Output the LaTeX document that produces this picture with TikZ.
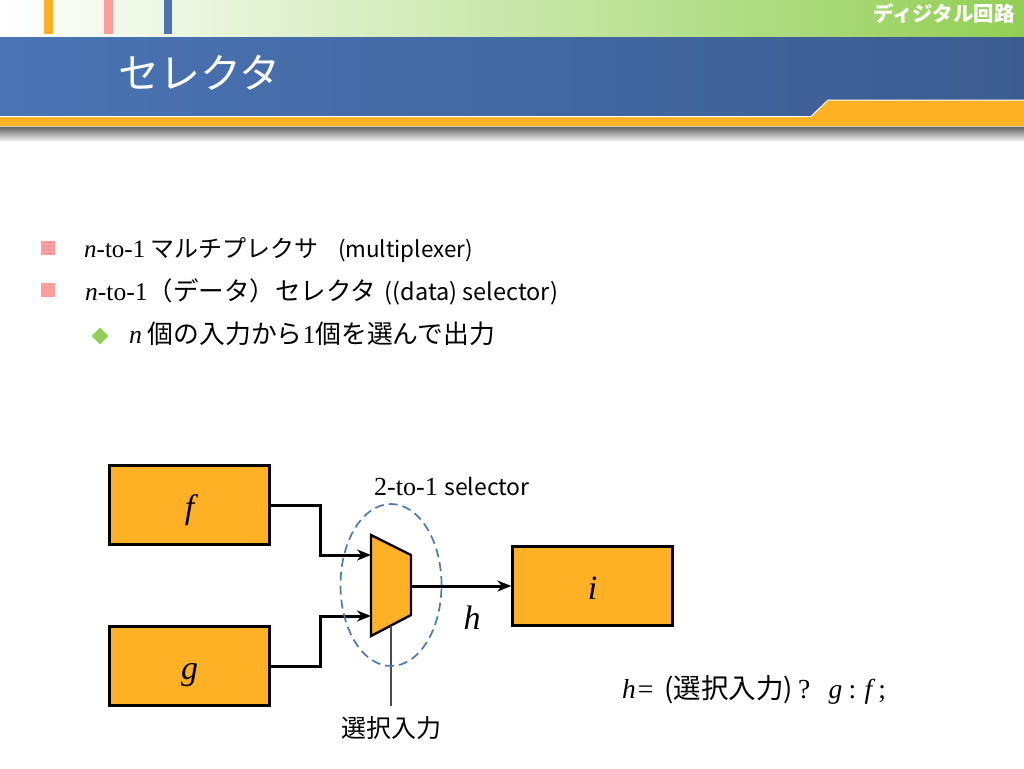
\documentclass[tikz,border=0pt]{standalone}
\usepackage{fontspec}
\setmainfont{Noto Sans CJK JP}
\newfontfamily\srf{Liberation Serif}
\usetikzlibrary{arrows.meta,shapes.geometric}
\definecolor{bandorange}{HTML}{FFB126}
\definecolor{bandpink}{HTML}{FF9C9C}
\definecolor{bandblue}{HTML}{4A74B4}
\definecolor{banddark}{HTML}{3C5C91}
\definecolor{bandgreen}{HTML}{92CF55}
\definecolor{ringblue}{HTML}{4F79B0}
\newcommand{\itl}[1]{{\srf\itshape #1}}
\newcommand{\txt}[2]{\fontsize{#1}{#1}\selectfont #2}

\begin{document}
\begin{tikzpicture}[x=1pt,y=-1pt,
		block node/.style={draw=black,line width=2.4pt,fill=bandorange,minimum width=160pt,minimum height=79pt,inner sep=0pt,text height=26pt,text depth=0pt,font=\fontsize{34}{34}\selectfont\srf\itshape},
		signal line/.style={line width=3pt,-{Stealth[length=14pt,width=11pt]}},
		line node/.style={anchor=base west,inner sep=0pt,text=black},
		bullet node/.style={fill=bandpink,minimum size=14pt,inner sep=0pt}]
		\useasboundingbox (0,0) rectangle (1024,768);
		
		% header
		\fill[left color=white,right color=bandgreen] (0,0) rectangle (1024,38);
		\fill[bandorange] (44,0) rectangle (53,34);
		\fill[bandpink] (104,0) rectangle (113,34);
		\fill[bandblue] (164,0) rectangle (172,34);
		\fill[left color=bandblue,right color=banddark] (0,38) rectangle (1024,118);
		\fill[top color=black!65,bottom color=white] (0,126) rectangle (1024,142);
		\draw[white,line width=1pt,fill=bandorange] (-2,116.5) -- (811,116.5) -- (828,100) -- (1026,100) -- (1026,126) -- (-2,126) -- cycle;
		\fill[bandorange] (0,119) rectangle (1024,126);
		\node[anchor=west,inner sep=0pt,text=white] (title) at (118,73) {\txt{41}{セレクタ}};
		\node[anchor=east,inner sep=0pt,text=white] (tag) at (1015,13) {\txt{20.5}{\bfseries ディジタル回路}};
		
		% text lines
		\node[bullet node] (b1) at (48,248) {};
		\node[bullet node] (b2) at (48,290) {};
		\node[diamond,fill=bandgreen,minimum size=17pt,inner sep=0pt] (b3) at (100,336) {};
		\node[line node] (l1) at (84,257) {\txt{24}{{\fontsize{25}{25}\selectfont\itl{n}{\srf -to-1}} マルチプレクサ\hspace{14pt} {\fontsize{22.4}{22.4}\selectfont (multiplexer)}}};
		\node[line node] (l2) at (85,300) {\txt{25.5}{\itl{n}{\srf -to-1}（データ）セレクタ\hspace{3pt} {\fontsize{23.5}{23.5}\selectfont ((data) selector)}}};
		\node[line node] (l3) at (129,343) {\txt{25.8}{\itl{n} 個の入力から{\srf 1}個を選んで出力}};
		
		% circuit
		\node[block node] (f) at (189.5,505) {f};
		\node[block node] (g) at (189.5,666) {g};
		\node[block node] (i) at (592.5,586) {i};
		\coordinate (mux1) at (371,535);
		\coordinate (mux2) at (411,555);
		\coordinate (mux3) at (411,615);
		\coordinate (mux4) at (371,636);
		\coordinate (inf) at (371,555);
		\coordinate (ing) at (371,616);
		\coordinate (out) at (411,586);
		\coordinate (sel) at (391,626);
		\draw[black,line width=2.4pt,fill=bandorange] (mux1) -- (mux2) -- (mux3) -- (mux4) -- cycle;
		\draw[signal line] (f.east) -- (320,505) -- (320,555) -- (inf);
		\draw[signal line] (g.east) -- (320,666) -- (320,616) -- (ing);
		\draw[signal line] (out) -- (i.west);
		\node[inner sep=0pt] (seltext) at (391,728) {\txt{25}{選択入力}};
		\draw[black!70,line width=1.3pt] (sel) -- (391,706);
		\node[draw=ringblue,dash pattern=on 9pt off 5pt,line width=1.7pt,ellipse,minimum width=101pt,minimum height=162pt,inner sep=0pt] (ring) at (391,585) {};
		\node[line node] (name) at (374,495) {\txt{26}{\srf 2-to-1 {\fontsize{23}{23}\selectfont\rmfamily selector}}};
		\node[inner sep=0pt] (hlabel) at (472,618) {\txt{34}{\itl{h}}};
		\node[line node] (eqn) at (622,698) {\txt{27.5}{\itl{h}\hspace{2pt}{\srf =}\hspace{11pt}(選択入力)\hspace{5pt}{\srf ?}\ \ \ \itl{g} {\srf :} \itl{f} {\srf ;}}};
\end{tikzpicture}
\end{document}
